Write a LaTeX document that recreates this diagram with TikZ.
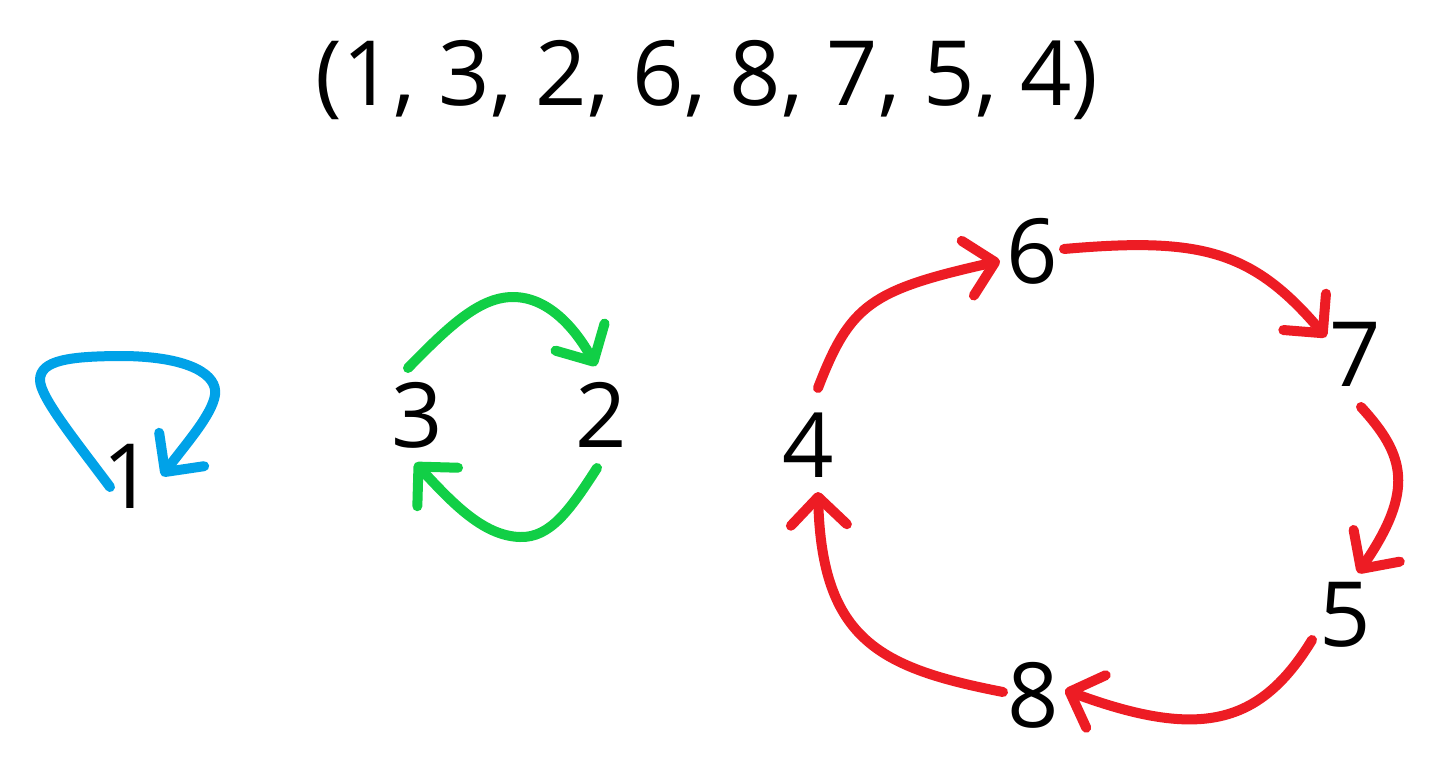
\documentclass[tikz,border=0pt]{standalone}
\usepackage{fontspec}
\setmainfont{Open Sans}
\usetikzlibrary{arrows.meta}
\definecolor{pblue}{RGB}{0,162,232}
\definecolor{pgreen}{RGB}{17,207,70}
\definecolor{pred}{RGB}{237,28,36}
\tikzset{
  num/.style={font=\fontsize{45}{54}\selectfont, inner sep=0pt, text=black},
  stroke/.style={line width=5pt, line cap=round, line join=round,
     -{Straight Barb[length=14pt,width=28pt,round]}},
}
\begin{document}
\begin{tikzpicture}[x=0.5pt,y=-0.5pt]
\useasboundingbox (0,0) rectangle (1433,760);
\node[num] (title) at (707,80) {(1, 3, 2, 6, 8, 7, 5, 4)};
\node[num] (n1) at (128,476) {1};
\node[num] (n3) at (417,415) {3};
\node[num] (n2) at (601,415) {2};
\node[num] (n4) at (808,445) {4};
\node[num] (n6) at (1032,251) {6};
\node[num] (n7) at (1355,354) {7};
\node[num] (n5) at (1345,615) {5};
\node[num] (n8) at (1033,695) {8};
% endpoints
\coordinate (b1s) at (110,487); \coordinate (b1e) at (162,476);
\coordinate (g32s) at (408,368); \coordinate (g32e) at (596,366);
\coordinate (g23s) at (597,468); \coordinate (g23e) at (415,463);
\coordinate (r46s) at (818,388); \coordinate (r46e) at (1000,261);
\coordinate (r67s) at (1064,249); \coordinate (r67e) at (1326,337);
\coordinate (r75s) at (1361,407); \coordinate (r75e) at (1358,573);
\coordinate (r58s) at (1312,640); \coordinate (r58e) at (1065,690);
\coordinate (r84s) at (1003,692); \coordinate (r84e) at (818,492);
% blue loop 1 -> 1
\draw[stroke, pblue] (b1s) .. controls (75,440) and (40,397) .. (40,380)
   .. controls (40,360) and (70,356) .. (125,356)
   .. controls (190,357) and (218,375) .. (215,395)
   .. controls (212,415) and (185,445) .. (b1e);
% green
\draw[stroke, pgreen] (g32s) .. controls (450,325) and (480,297) .. (513,297)
   .. controls (548,297) and (575,328) .. (g32e);
\draw[stroke, pgreen] (g23s) .. controls (570,510) and (550,538) .. (520,537)
   .. controls (482,536) and (450,500) .. (g23e);
% red cycle
\draw[stroke, pred] (r46s) .. controls (850,305) and (870,290) .. (r46e);
\draw[stroke, pred] (r67s) .. controls (1200,237) and (1252,250) .. (r67e);
\draw[stroke, pred] (r75s) .. controls (1405,455) and (1415,490) .. (r75e);
\draw[stroke, pred] (r58s) .. controls (1260,725) and (1200,740) .. (r58e);
\draw[stroke, pred] (r84s) .. controls (880,668) and (822,640) .. (r84e);
\end{tikzpicture}
\end{document}
